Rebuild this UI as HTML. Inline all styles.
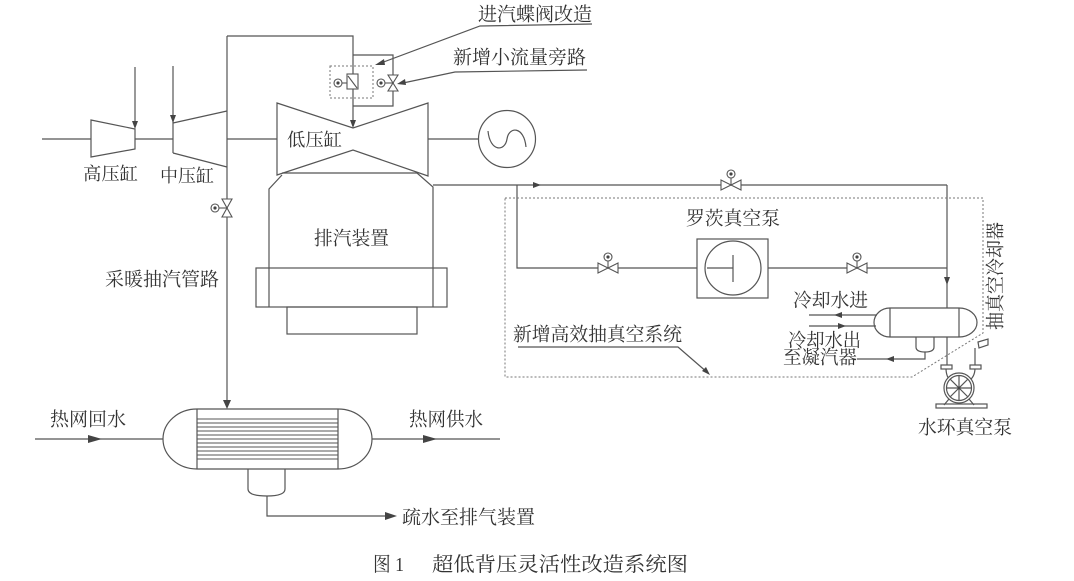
<!DOCTYPE html>
<html><head><meta charset="utf-8"><style>
html,body{margin:0;padding:0;background:#fff;}
svg{display:block;}
</style></head><body>
<svg width="1074" height="581" viewBox="0 0 1074 581" xmlns="http://www.w3.org/2000/svg">
<rect width="1074" height="581" fill="#fff"/>
<g fill="none" stroke="#555" stroke-width="1.2">
  <!-- shaft & HP/IP -->
  <line x1="42" y1="139" x2="91" y2="139"/>
  <polygon points="91,120 135,129 135,149 91,157"/>
  <line x1="135" y1="139" x2="173" y2="139"/>
  <line x1="135" y1="67" x2="135" y2="124"/>
  <line x1="173" y1="66" x2="173" y2="153"/>
  <line x1="173" y1="123" x2="227" y2="111"/>
  <line x1="173" y1="153" x2="227" y2="167"/>
  <line x1="227" y1="139" x2="277" y2="139"/>
  <!-- big extraction vertical -->
  <line x1="227" y1="36" x2="227" y2="402"/>
  <!-- top loop -->
  <polyline points="227,36 353,36 353,122"/>
  <polyline points="353,55 393,55 393,106 353,106"/>
  <!-- LP -->
  <polygon points="277,103 353,128 428,103 428,176 353,150 277,175"/>
  <line x1="428" y1="139" x2="478" y2="139"/>
  <circle cx="507" cy="139" r="28.5"/>
  <path d="M488,131 C490,152 505,152 507,139 C509,126 524,126 526,147"/>
  <!-- hood -->
  <line x1="282" y1="173" x2="417" y2="173"/>
  <polyline points="269,307 269,189 282,175"/>
  <polyline points="417,173 433,187 433,307"/>
  <rect x="256" y="268" width="191" height="39"/>
  <rect x="287" y="307" width="130" height="27"/>
  <!-- exhaust line -->
  <line x1="433" y1="185" x2="947" y2="185"/>
  <line x1="947" y1="185" x2="947" y2="308"/>
  <line x1="947" y1="337" x2="947" y2="368"/>
  <polyline points="517,185 517,268 947,268"/>
  <rect x="697" y="239" width="71" height="59" fill="#fff"/>
  <ellipse cx="733" cy="268" rx="28" ry="27"/>
  <line x1="707" y1="268" x2="733" y2="268"/>
  <line x1="733" y1="255" x2="733" y2="282"/>
  <!-- cooler -->
  <path d="M890,308 L959,308 A18,14.5 0 0 1 959,337 L890,337 A16,14.5 0 0 1 890,308 Z" fill="#fff"/>
  <line x1="890" y1="308" x2="890" y2="337"/>
  <line x1="959" y1="308" x2="959" y2="337"/>
  <path d="M916,337 L916,347 Q916,352 925,352 Q934,352 934,347 L934,337"/>
  <polyline points="925,352 925,359 857,359"/>
  <line x1="809" y1="315" x2="877" y2="315"/>
  <line x1="809" y1="326" x2="876" y2="326"/>
  <!-- leader for system -->
  <polyline points="518,347 678,347 708,373"/>
  <!-- water ring pump -->
  <path d="M946,368 Q946,378 952,382"/>
  <path d="M975,348 L975,368 Q975,378 967,382"/>
  <rect x="941" y="365" width="11" height="4" fill="#fff"/>
  <rect x="970" y="365" width="11" height="4" fill="#fff"/>
  <polygon points="978,342 988,339 988,345 979,348" fill="#fff"/>
  <circle cx="959" cy="388" r="15" fill="#fff"/>
  <circle cx="959" cy="388" r="12.5"/>
  <line x1="946" y1="388" x2="972" y2="388"/>
  <line x1="959" y1="375" x2="959" y2="401"/>
  <line x1="950" y1="379" x2="968" y2="397"/>
  <line x1="968" y1="379" x2="950" y2="397"/>
  <line x1="949" y1="399" x2="944" y2="405"/>
  <line x1="969" y1="399" x2="974" y2="405"/>
  <rect x="936" y="404" width="51" height="4"/>
  <!-- heat exchanger -->
  <path d="M197,409 L338,409 A34,30 0 0 1 338,469 L197,469 A34,30 0 0 1 197,409 Z"/>
  <line x1="197" y1="409" x2="197" y2="469"/>
  <line x1="338" y1="409" x2="338" y2="469"/>
  <g stroke-width="1">
    <line x1="197" y1="419" x2="338" y2="419"/><line x1="197" y1="423" x2="338" y2="423"/>
    <line x1="197" y1="427" x2="338" y2="427"/><line x1="197" y1="431" x2="338" y2="431"/>
    <line x1="197" y1="435" x2="338" y2="435"/><line x1="197" y1="439" x2="338" y2="439"/>
    <line x1="197" y1="443" x2="338" y2="443"/><line x1="197" y1="447" x2="338" y2="447"/>
    <line x1="197" y1="451" x2="338" y2="451"/><line x1="197" y1="455" x2="338" y2="455"/>
    <line x1="197" y1="459" x2="338" y2="459"/>
  </g>
  <path d="M248,469 L248,489 Q248,496 267,496 Q285,496 285,489 L285,469"/>
  <polyline points="267,496 267,516 390,516"/>
  <line x1="35" y1="439" x2="163" y2="439"/>
  <line x1="372" y1="439" x2="500" y2="439"/>
  <!-- leaders top -->
  <polyline points="592,24 480,26 381,63"/>
  <polyline points="587,70 455,72 403,83"/>
</g>
<!-- dotted boxes -->
<g fill="none" stroke="#777" stroke-width="1" stroke-dasharray="2,2">
  <rect x="330" y="66" width="43" height="32"/>
  <polygon points="505,198 983,198 983,333 912,377 505,377"/>
</g>
<!-- valves -->
<g fill="#fff" stroke="#555" stroke-width="1.1">
  <!-- butterfly valve -->
  <rect x="347" y="74" width="11" height="15"/>
  <line x1="348" y1="76" x2="357" y2="88"/>
  <line x1="342" y1="83" x2="347" y2="83"/>
  <circle cx="338" cy="83" r="4"/>
  <!-- small bypass globe valve -->
  <polygon points="388,75 398,75 393,83"/><polygon points="388,91 398,91 393,83"/>
  <line x1="385" y1="83" x2="393" y2="83"/>
  <circle cx="381" cy="83" r="4"/>
  <!-- extraction valve -->
  <polygon points="222,199 232,199 227,208"/><polygon points="222,217 232,217 227,208"/>
  <line x1="219" y1="208" x2="227" y2="208"/>
  <circle cx="215" cy="208" r="4"/>
  <!-- exhaust valve -->
  <polygon points="721,180 721,190 731,185"/><polygon points="741,180 741,190 731,185"/>
  <line x1="731" y1="178" x2="731" y2="185"/>
  <circle cx="731" cy="174" r="4"/>
  <!-- roots left valve -->
  <polygon points="598,263 598,273 608,268"/><polygon points="618,263 618,273 608,268"/>
  <line x1="608" y1="261" x2="608" y2="268"/>
  <circle cx="608" cy="257" r="4"/>
  <!-- roots right valve -->
  <polygon points="847,263 847,273 857,268"/><polygon points="867,263 867,273 857,268"/>
  <line x1="857" y1="261" x2="857" y2="268"/>
  <circle cx="857" cy="257" r="4"/>
</g>
<g fill="#444">
  <circle cx="338" cy="83" r="1.6"/><circle cx="381" cy="83" r="1.6"/><circle cx="215" cy="208" r="1.6"/>
  <circle cx="731" cy="174" r="1.6"/><circle cx="608" cy="257" r="1.6"/><circle cx="857" cy="257" r="1.6"/>
  <circle cx="959" cy="388" r="1.5"/>
  <!-- arrows -->
  <polygon points="135,129 132,121 138,121"/>
  <polygon points="173,123 170,115 176,115"/>
  <polygon points="353,128 350,120 356,120"/>
  <polygon points="227,409 223,400 231,400"/>
  <polygon points="541,185 533,182 533,188"/>
  <polygon points="947,285 944,277 950,277"/>
  <polygon points="834,315 842,312 842,318"/>
  <polygon points="846,326 838,323 838,329"/>
  <polygon points="886,359 894,356 894,362"/>
  <polygon points="710,375 702,371 706,367"/>
  <polygon points="102,439 88,435 88,443"/>
  <polygon points="437,439 423,435 423,443"/>
  <polygon points="397,516 385,512 385,520"/>
  <polygon points="375,65 384,59 385,65"/>
  <polygon points="397,84 405,79 406,85"/>
</g>
<g font-family="'Liberation Serif','Noto Serif CJK SC',serif" font-size="19" fill="#333" dominant-baseline="central">
  <text x="478" y="15" textLength="114" lengthAdjust="spacingAndGlyphs">进汽蝶阀改造</text>
  <text x="453" y="58" textLength="133" lengthAdjust="spacingAndGlyphs">新增小流量旁路</text>
  <text x="83" y="174" font-size="18" textLength="55" lengthAdjust="spacingAndGlyphs">高压缸</text>
  <text x="160" y="176" font-size="18" textLength="54" lengthAdjust="spacingAndGlyphs">中压缸</text>
  <text x="287" y="140" font-size="18" textLength="55" lengthAdjust="spacingAndGlyphs">低压缸</text>
  <text x="314" y="239" textLength="75" lengthAdjust="spacingAndGlyphs">排汽装置</text>
  <text x="105" y="280" textLength="114" lengthAdjust="spacingAndGlyphs">采暖抽汽管路</text>
  <text x="686" y="219" textLength="94" lengthAdjust="spacingAndGlyphs">罗茨真空泵</text>
  <text x="793" y="301" textLength="75" lengthAdjust="spacingAndGlyphs">冷却水进</text>
  <text x="788" y="341" textLength="73" lengthAdjust="spacingAndGlyphs">冷却水出</text>
  <text x="783" y="358" textLength="74" lengthAdjust="spacingAndGlyphs">至凝汽器</text>
  <text x="513" y="335" textLength="169" lengthAdjust="spacingAndGlyphs">新增高效抽真空系统</text>
  <text transform="translate(996,276) rotate(-90)" x="-54" y="0" textLength="108" lengthAdjust="spacingAndGlyphs">抽真空冷却器</text>
  <text x="918" y="428" textLength="94" lengthAdjust="spacingAndGlyphs">水环真空泵</text>
  <text x="50" y="420" textLength="76" lengthAdjust="spacingAndGlyphs">热网回水</text>
  <text x="409" y="420" textLength="74" lengthAdjust="spacingAndGlyphs">热网供水</text>
  <text x="402" y="518" textLength="133" lengthAdjust="spacingAndGlyphs">疏水至排气装置</text>
  <text x="373" y="565" font-size="20" textLength="31" lengthAdjust="spacingAndGlyphs">图 1</text>
  <text x="432" y="565" font-size="20" textLength="256" lengthAdjust="spacingAndGlyphs">超低背压灵活性改造系统图</text>
</g>
</svg>
</body></html>
